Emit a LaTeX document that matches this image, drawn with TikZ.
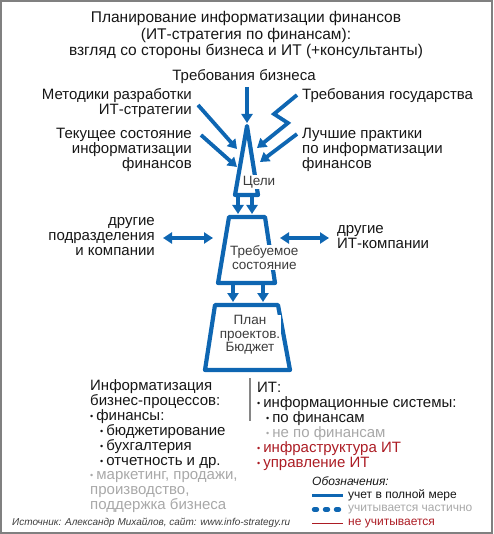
\documentclass[tikz,border=0pt]{standalone}
\usepackage{fontspec}
\setmainfont{Liberation Sans}
\usetikzlibrary{arrows.meta,calc}
\definecolor{ibl}{RGB}{14,102,178}
\definecolor{ired}{RGB}{172,28,36}
\definecolor{igray}{RGB}{168,168,168}
\definecolor{itxt}{RGB}{22,22,22}
\definecolor{ilab}{RGB}{60,60,60}
\definecolor{iframe}{RGB}{128,128,128}
\newcommand\bul{\raisebox{1pt}{\fontsize{9}{9}\selectfont•}\hspace{3pt}}
\begin{document}
\begin{tikzpicture}[x=1pt,y=-1pt,
  arr/.style={ibl,line width=3.8pt,-{Triangle[length=9pt,width=11pt]}},
  darr/.style={ibl,line width=3.8pt,{Triangle[length=9pt,width=11pt]}-{Triangle[length=9pt,width=11pt]}},
  shp/.style={ibl,line width=4.2pt,line join=round},
  txt/.style={text=itxt,inner sep=0pt,font=\fontsize{15}{15}\selectfont},
  lab/.style={text=ilab,fill=white,inner sep=1pt,align=center,font=\fontsize{13.5}{13.5}\selectfont},
  leg/.style={inner sep=0pt,anchor=west,font=\fontsize{12}{14}\selectfont},
]
\useasboundingbox (0,0) rectangle (493,534);
\draw[iframe,line width=2pt] (1,1) rectangle (492,533);

% title
\node[txt,align=center,font=\fontsize{15.5}{16.2}\selectfont] (title) at (246,35)
  {Планирование информатизации финансов\\(ИТ-стратегия по финансам):\\взгляд со стороны бизнеса и ИТ (+консультанты)};

% input labels
\node[txt] (treb) at (244,77) {Требования бизнеса};
\node[txt,align=right,anchor=east] (metod) at (192,103) {Методики разработки\\ИТ-стратегии};
\node[txt,align=right,anchor=east] (tek) at (192,150) {Текущее состояние\\информатизации\\финансов};
\node[txt,anchor=west] (gos) at (302,96) {Требования государства};
\node[txt,align=left,anchor=west] (best) at (302,150) {Лучшие практики\\по информатизации\\финансов};
\node[txt,align=right,anchor=east] (podr) at (155,237) {другие\\подразделения\\и компании};
\node[txt,align=left,anchor=west] (itco) at (337,237.5) {другие\\ИТ-компании};

% shapes
\draw[shp] (247,126) -- (235,195) -- (258,195) -- cycle;
\node[lab] (celi) at (259,182) {Цели};
\draw[shp] (229,217) -- (265,217) -- (275,283) -- (218,283) -- cycle;
\node[lab,anchor=west] (trebs) at (229,257.5) {Требуемое\\состояние};
\draw[shp] (215,305) -- (278,305) -- (290,370) -- (205,370) -- cycle;
\node[lab] (plan) at (250,335) {План\\проектов.\\Бюджет};

% arrow coordinates
\coordinate (t1) at (247,87);   \coordinate (t2) at (247,123);
\coordinate (m1) at (198,105);  \coordinate (m2) at (237,149);
\coordinate (k1) at (201,135);  \coordinate (k2) at (237,167);
\coordinate (g1) at (297,95);   \coordinate (g2) at (274,114);
\coordinate (g3) at (288,123);  \coordinate (g4) at (257,148);
\coordinate (b1) at (297,134);  \coordinate (b2) at (260,162);
\coordinate (c1) at (238,196);  \coordinate (c2) at (238,214);
\coordinate (c3) at (252,196);  \coordinate (c4) at (252,214);
\coordinate (r1) at (233,284);  \coordinate (r2) at (233,302);
\coordinate (r3) at (263,284);  \coordinate (r4) at (263,302);
\coordinate (l1) at (163,238);  \coordinate (l2) at (213,238);
\coordinate (q1) at (280,238);  \coordinate (q2) at (329,238);

\draw[arr] (t1) -- (t2);
\draw[arr] (m1) -- (m2);
\draw[arr] (k1) -- (k2);
\draw[arr,line join=miter] (g1) -- (g2) -- (g3) -- (g4);
\draw[arr] (b1) -- (b2);
\draw[arr] (c1) -- (c2);
\draw[arr] (c3) -- (c4);
\draw[arr] (r1) -- (r2);
\draw[arr] (r3) -- (r4);
\draw[darr] (l1) -- (l2);
\draw[darr] (q1) -- (q2);

% bottom left block
\node[txt,align=left,anchor=north west,font=\fontsize{15}{14.9}\selectfont] (biz) at (90,379.5)
  {Информатизация\\бизнес-процессов:\\\bul финансы:\\\hspace{10pt}\bul бюджетирование\\\hspace{10pt}\bul бухгалтерия\\\hspace{10pt}\bul отчетность и др.\\
   \textcolor{igray}{\bul маркетинг, продажи,}\\\textcolor{igray}{производство,}\\\textcolor{igray}{поддержка бизнеса}};

% separator
\coordinate (s1) at (250,378); \coordinate (s2) at (250,421);
\draw[igray!80!black,line width=2.4pt] (s1) -- (s2);

% bottom right block
\node[txt,align=left,anchor=north west,font=\fontsize{15}{14.9}\selectfont] (it) at (257,382)
  {ИТ:\\\bul информационные системы:\\\hspace{9pt}\bul по финансам\\\textcolor{igray}{\hspace{9pt}\bul не по финансам}\\
   \textcolor{ired}{\bul инфраструктура ИТ}\\\textcolor{ired}{\bul управление ИТ}};

% legend
\node[leg,text=itxt,font=\fontsize{12}{14}\itshape] (legt) at (312,481) {Обозначения:};
\coordinate (la1) at (312,495.5); \coordinate (la2) at (343,495.5);
\coordinate (lb1) at (314,509.5); \coordinate (lb2) at (343,509.5);
\coordinate (lc1) at (312,523.5); \coordinate (lc2) at (343,523.5);
\draw[ibl,line width=3.8pt] (la1) -- (la2);
\draw[ibl,line width=4.4pt,line cap=round,dash pattern=on 3pt off 8pt] (lb1) -- (lb2);
\draw[ired,line width=1pt] (lc1) -- (lc2);
\node[leg,text=itxt] (leg1) at (348,495.5) {учет в полной мере};
\node[leg,text=igray] (leg2) at (348,509.5) {учитывается частично};
\node[leg,text=ired] (leg3) at (348,523.5) {не учитывается};

% source
\node[inner sep=0pt,anchor=west,text=ilab,font=\fontsize{10}{12}\itshape] (src) at (12,523)
  {Источник: Александр Михайлов, сайт: www.info-strategy.ru};
\end{tikzpicture}
\end{document}
